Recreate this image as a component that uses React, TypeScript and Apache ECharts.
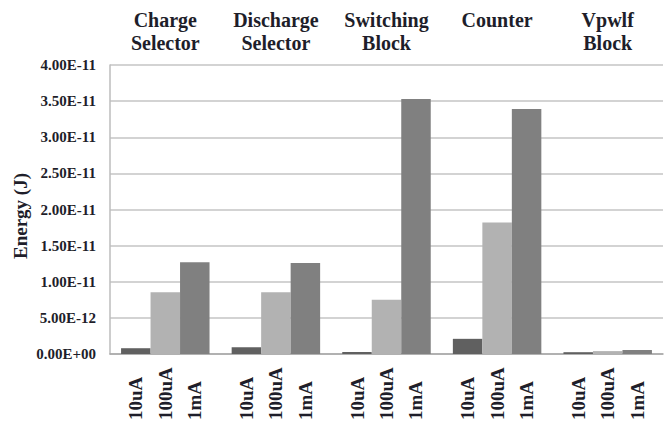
import React, { useEffect, useRef } from "react";
import * as echarts from "echarts";

const groups = ["Charge\nSelector", "Discharge\nSelector", "Switching\nBlock", "Counter\n ", "Vpwlf\nBlock"];
const seriesNames = ["10uA", "100uA", "1mA"];
const values10uA = [0.8e-12, 0.95e-12, 0.28e-12, 2.1e-12, 0.25e-12];
const values100uA = [8.55e-12, 8.55e-12, 7.5e-12, 18.2e-12, 0.4e-12];
const values1mA = [12.7e-12, 12.6e-12, 35.3e-12, 33.9e-12, 0.55e-12];
const colors = ["#606060", "#b2b2b2", "#808080"];
const yAxisTitle = "Energy (J)";

const FONT = "Times New Roman, serif";
const TEXT = "#1e1e2a";

function fmt(v: number): string {
  const s = v.toExponential(2);
  const [m, e] = s.split("e");
  const sign = e[0] === "-" ? "-" : "+";
  const digits = e.replace(/^[+-]/, "").padStart(2, "0");
  return `${m}E${sign}${digits}`;
}

export default function App() {
  const ref = useRef<HTMLDivElement>(null);
  useEffect(() => {
    if (!ref.current) return;
    const chart = echarts.init(ref.current, undefined, { renderer: "svg" });
    const data = [values10uA, values100uA, values1mA];
    chart.setOption({
      animation: false,
      textStyle: { fontFamily: FONT },
      grid: { left: 110, right: 9, top: 65, bottom: 69, containLabel: false },
      graphic: [
        {
          type: "text",
          x: 20,
          y: 216,
          rotation: Math.PI / 2,
          style: {
            text: yAxisTitle,
            fontFamily: FONT,
            fontWeight: "bold",
            fontSize: 19,
            fill: TEXT,
            align: "center",
            verticalAlign: "middle",
          },
        },
      ],
      xAxis: [
        {
          type: "category",
          data: groups,
          position: "bottom",
          axisLine: { show: true, lineStyle: { color: "#a6a6a6", width: 1.5 } },
          axisTick: { show: false },
          axisLabel: { show: false },
        },
        {
          type: "category",
          data: groups,
          position: "top",
          axisLine: { show: false },
          axisTick: { show: false },
          axisLabel: {
            show: true,
            margin: 11,
            fontFamily: FONT,
            fontWeight: "bold",
            fontSize: 20,
            lineHeight: 23,
            color: TEXT,
            interval: 0,
          },
        },
      ],
      yAxis: {
        type: "value",
        min: 0,
        max: 4e-11,
        interval: 5e-12,
        axisLine: { show: true, lineStyle: { color: "#bdbdbd", width: 1.5 } },
        axisTick: { show: false },
        axisLabel: {
          margin: 14,
          fontFamily: FONT,
          fontWeight: "bold",
          fontSize: 15,
          color: TEXT,
          formatter: (v: number) => fmt(v),
        },
        splitLine: { show: true, lineStyle: { color: "#c4c4c4", width: 1.5 } },
      },
      series: seriesNames.map((name, i) => ({
        name,
        type: "bar",
        xAxisIndex: 0,
        data: data[i],
        barGap: "0%",
        barCategoryGap: "20%",
        itemStyle: { color: colors[i] },
        label: {
          show: true,
          position: "bottom",
          distance: 66,
          rotate: 90,
          align: "left",
          verticalAlign: "middle",
          formatter: name,
          fontFamily: FONT,
          fontWeight: "bold",
          fontSize: 19,
          color: TEXT,
        },
      })),
    });
    return () => chart.dispose();
  }, []);
  return (
    <div
      ref={ref}
      style={{ position: "absolute", left: 0, top: 0, width: 672, height: 423 }}
    />
  );
}
